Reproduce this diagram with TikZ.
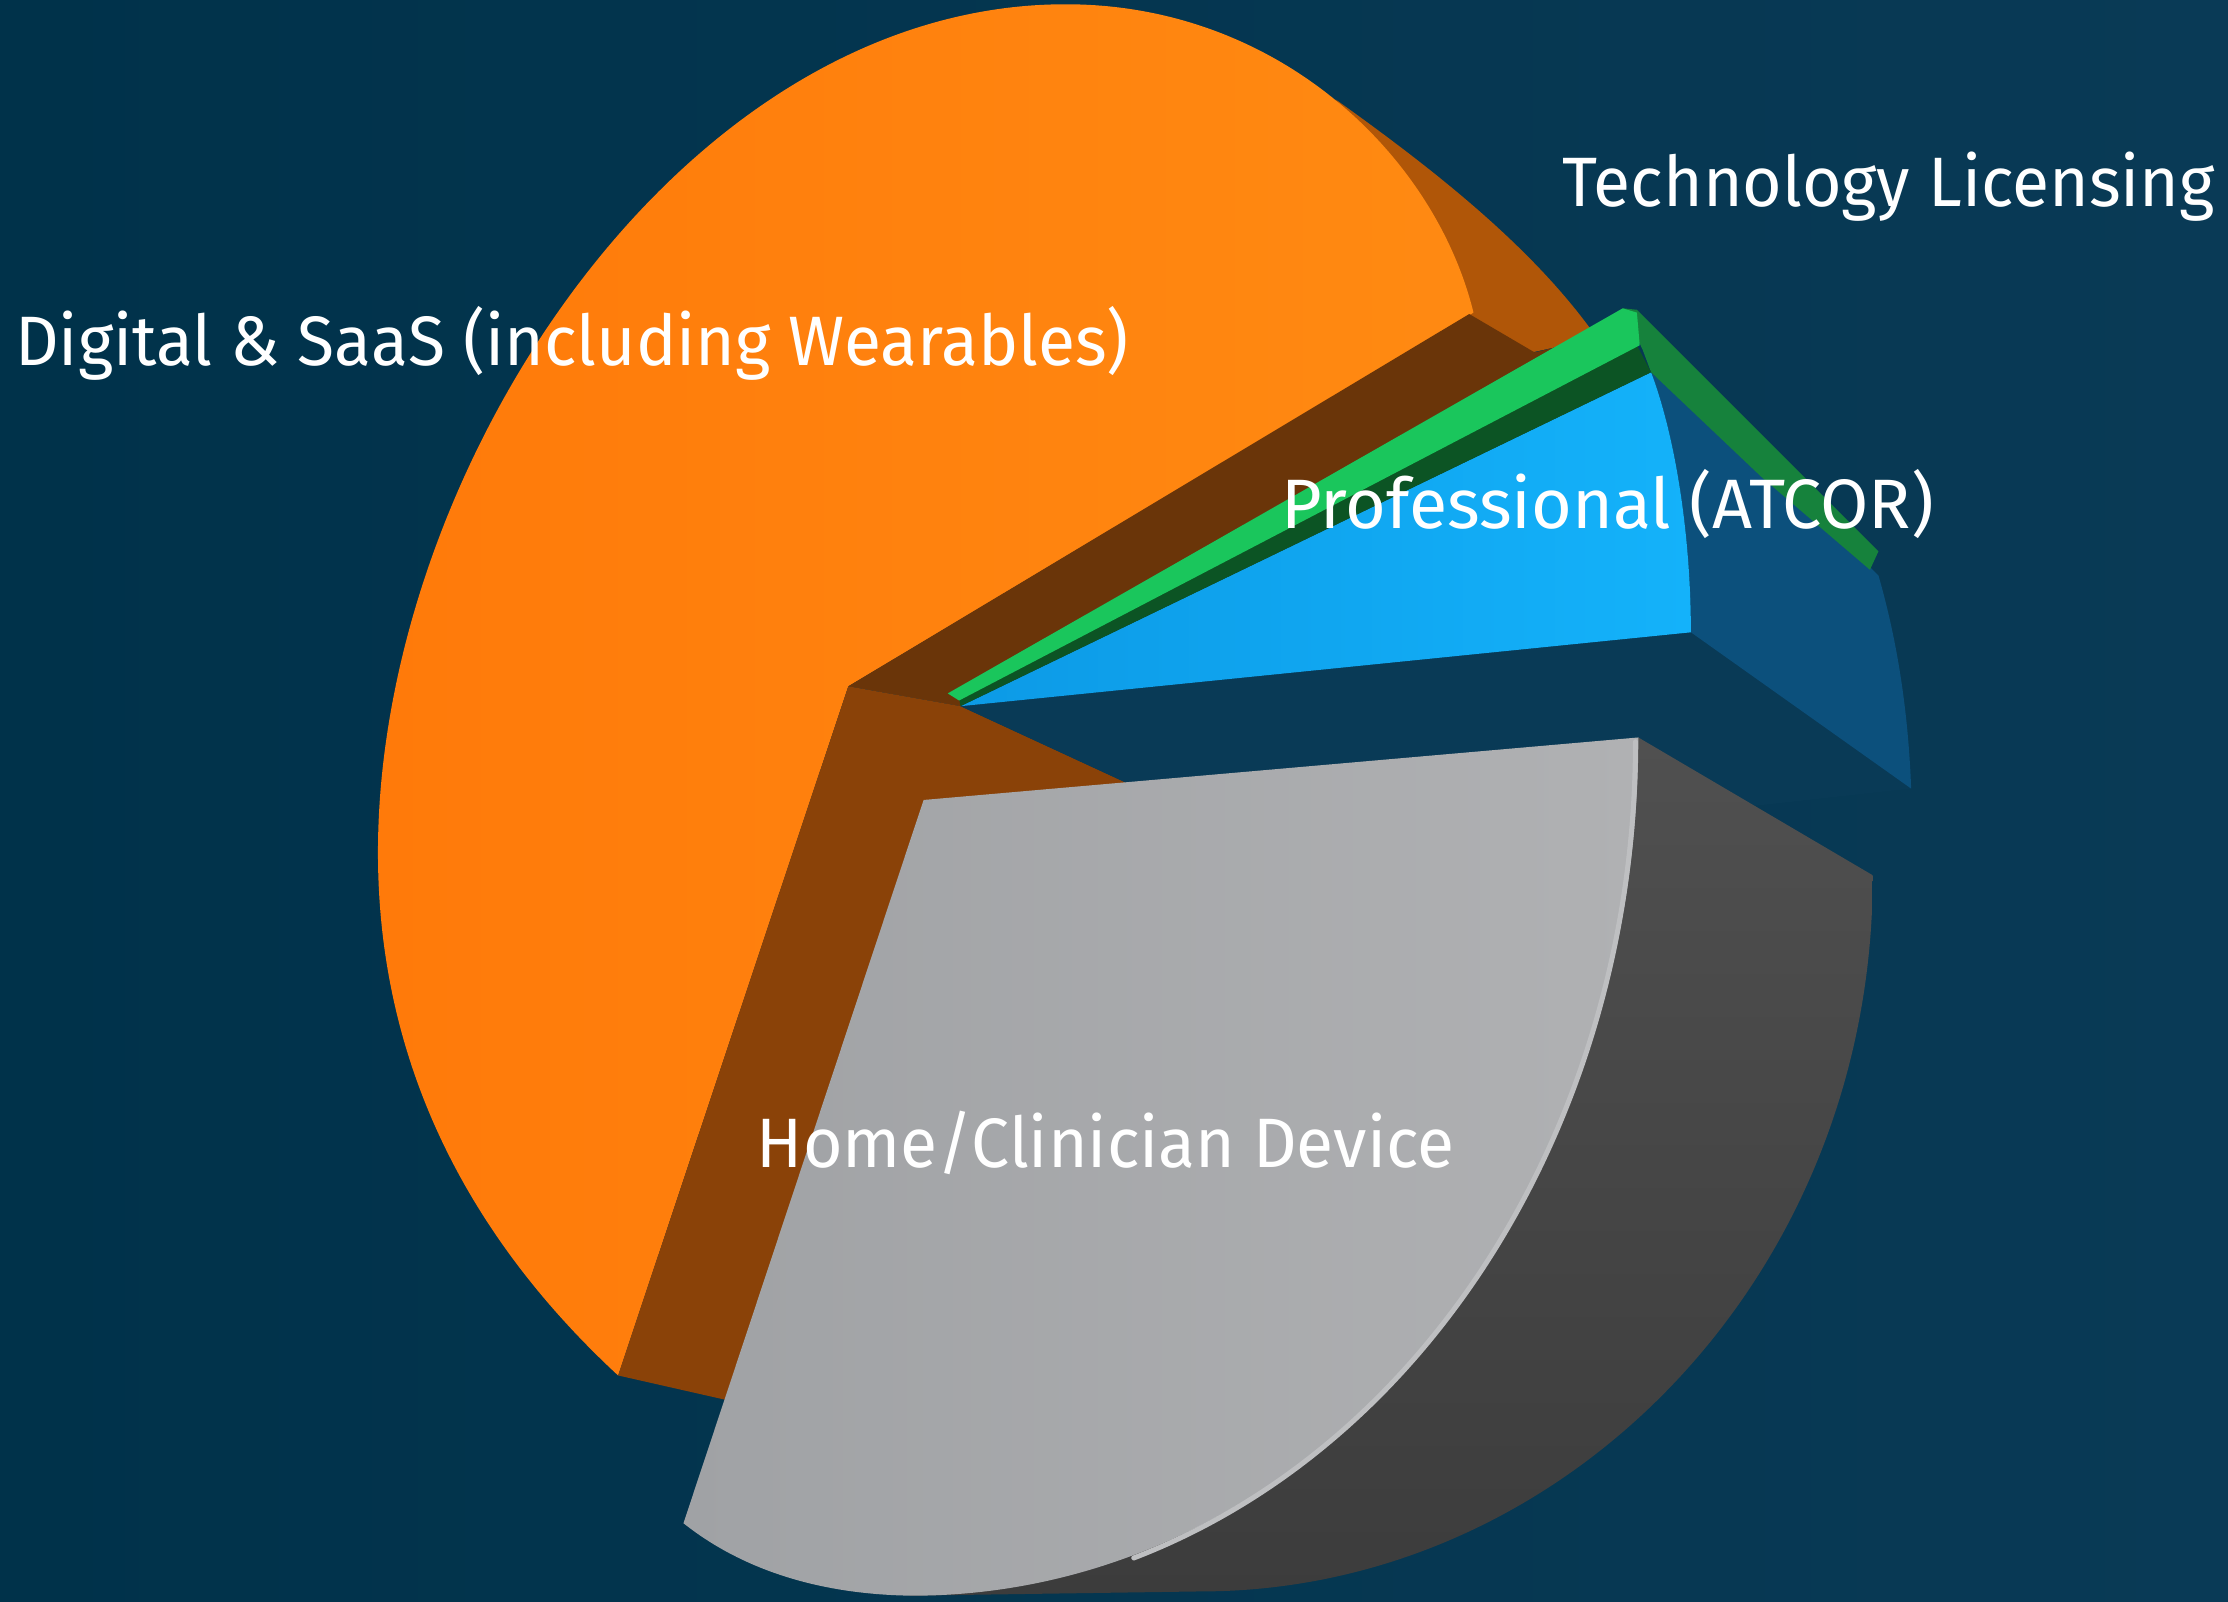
\documentclass[tikz,border=0pt]{standalone}
\usepackage{fontspec}
\setmainfont{Fira Sans}[FakeStretch=0.97]
\usetikzlibrary{positioning}

\definecolor{bgnavy}{RGB}{0,50,74}
\definecolor{bgglow}{RGB}{9,58,86}
\definecolor{orangetop}{RGB}{255,122,10}
\definecolor{orangelight}{RGB}{255,138,18}
\definecolor{orangeside}{RGB}{176,86,8}
\definecolor{browninner}{RGB}{106,53,9}
\definecolor{brownfront}{RGB}{138,66,8}
\definecolor{bluetop}{RGB}{12,154,230}
\definecolor{bluelight}{RGB}{20,178,250}
\definecolor{blueside}{RGB}{12,80,124}
\definecolor{bluebottom}{RGB}{9,58,86}
\definecolor{greentop}{RGB}{26,198,92}
\definecolor{greendark}{RGB}{12,84,36}
\definecolor{greenside}{RGB}{22,130,60}
\definecolor{graytop}{RGB}{160,162,165}
\definecolor{graylight}{RGB}{176,177,179}
\definecolor{grayrim}{RGB}{190,191,193}
\definecolor{grayside}{RGB}{60,60,60}
\definecolor{graysidelight}{RGB}{80,80,80}

\begin{document}
\begin{tikzpicture}[x=0.01cm,y=-0.01cm]
\tikzstyle{slicelabel}=[text=white,anchor=base west,inner sep=0pt,font=\fontsize{14}{16}\selectfont]
\tikzstyle{grayarc}=[x radius=511,y radius=604]
\useasboundingbox (0,0) rectangle (1568,1127);
\shade[left color=bgnavy,right color=bgglow] (0,0) rectangle (1568,1127);

% orange slice
\fill[orangeside] (940,70) .. controls (1010,120) and (1080,175) .. (1124,238)
    -- (1078,248) -- (1032,222) -- (1000,140) -- cycle;
\shade[left color=orangetop,right color=orangelight] (597,483) -- (435,968)
    .. controls (340,880) and (266,760) .. (266,600)
    .. controls (266,330) and (480,3) .. (750,3)
    .. controls (900,3) and (1010,110) .. (1037,220) -- cycle;
\fill[browninner] (597,483) -- (1034,221) -- (1080,248) -- (1130,236) -- (676,497) -- cycle;
\fill[brownfront] (597,483) -- (676,497) -- (795,552) -- (700,700) -- (510,985) -- (435,968) -- cycle;

% blue slice
\fill[bluebottom] (676,497) -- (1190,445) -- (1345,555) -- (1236,567) -- (1000,580) -- (795,552) -- cycle;
\fill[blueside] (1162,262) -- (1316,399) -- (1322,405) .. controls (1335,450) and (1343,500) .. (1345,555)
    -- (1190,445) .. controls (1190,380) and (1180,310) .. (1162,262) -- cycle;
\shade[left color=bluetop,right color=bluelight] (676,497) -- (1162,262)
    .. controls (1180,310) and (1190,380) .. (1190,445) -- cycle;

% green slice
\fill[greenside] (1142,217) -- (1152,218) -- (1322,388) -- (1316,401) -- (1240,336)
    -- (1162,262) -- (1156,246) -- cycle;
\fill[greendark] (676,497) -- (675,492) -- (1152,243) -- (1162,262) -- cycle;
\fill[greentop] (667,488) -- (1142,217) -- (1152,220) -- (1154,243) -- (675,493) -- cycle;

% gray slice
\shade[top color=graysidelight,bottom color=grayside] (1153,519) -- (1318,616)
    .. controls (1318,900) and (1100,1120) .. (845,1120) -- (640,1123) -- (900,800) -- cycle;
\shade[left color=graytop,right color=graylight] (650,563) -- (1153,519)
    arc[grayarc,start angle=0,end angle=90]
    .. controls (560,1122) and (510,1095) .. (481,1072) -- cycle;
\draw[grayrim,line width=1pt,line cap=round] (1151,522) arc[grayarc,start angle=0,end angle=72];

% labels
\node[slicelabel] (digital) at (10,257) {Digital \& SaaS (including Wearables)};
\node[slicelabel] (licensing) at (1099,145) {Technology Licensing};
\node[slicelabel] (professional) at (901,372) {\addfontfeatures{FakeStretch=1.0}Professional (ATCOR)};
\node[slicelabel] (device) at (532,822) {Home/Clinician Device};
\end{tikzpicture}
\end{document}
